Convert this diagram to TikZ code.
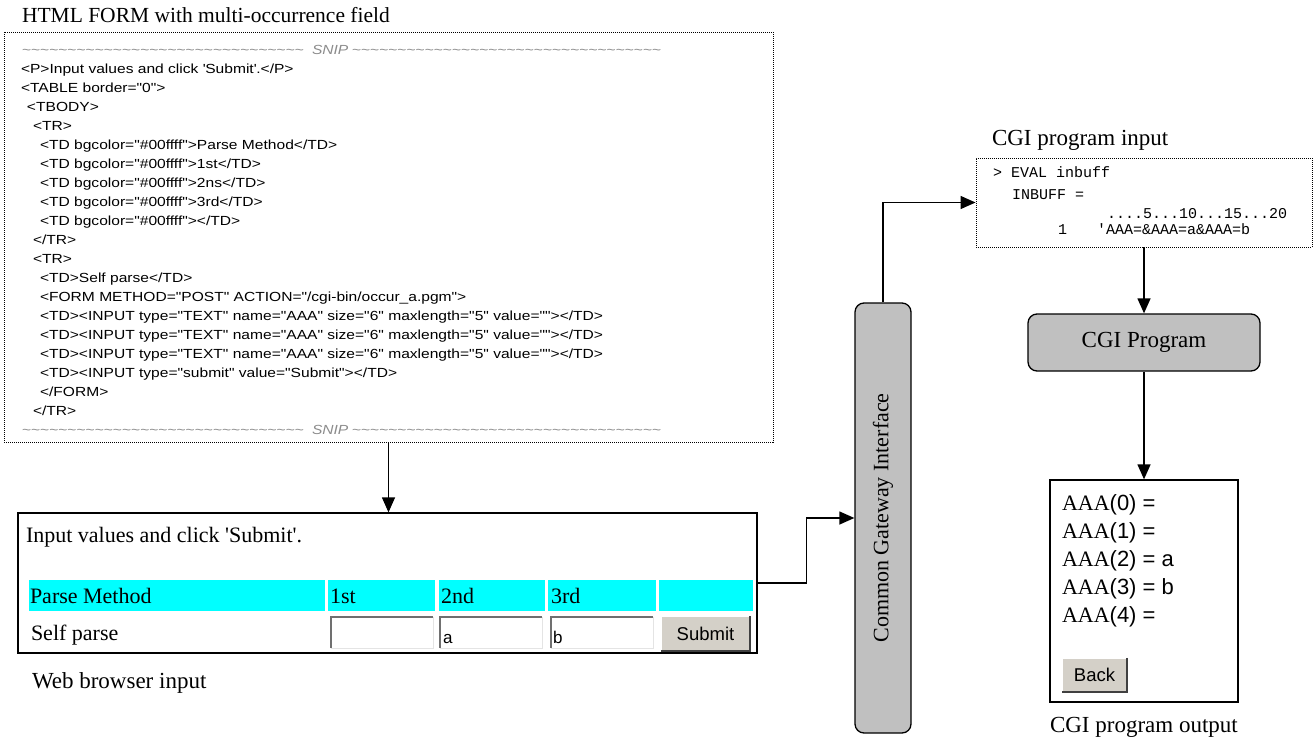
\documentclass[tikz,border=0pt]{standalone}
\usepackage{fontspec}
\setmainfont{Liberation Serif}
\newfontfamily\sansf{Liberation Sans}
\newfontfamily\monof{Liberation Mono}
\newfontfamily\codef[FakeStretch=1.18]{Liberation Sans}
\usetikzlibrary{arrows.meta,calc}
\newcommand\setfs[1]{\fontsize{#1}{#1}\selectfont}
\newcommand\tildes[1]{\foreach \i in {1,...,#1}{\textasciitilde}}
\definecolor{cyanc}{HTML}{00FFFF}
\definecolor{boxgray}{HTML}{C0C0C0}
\definecolor{btn}{HTML}{D4D0C8}
\definecolor{tgray}{HTML}{8C8C8C}
\definecolor{darkg}{HTML}{707070}
\definecolor{lightg}{HTML}{E4E4E4}
\definecolor{btndark}{HTML}{404040}
\begin{document}
\begin{tikzpicture}[x=1pt,y=-1pt,
  txt/.style={inner sep=0pt, outer sep=0pt, text depth=0pt, anchor=west},
  lbl/.style={txt, font=\setfs{23}, text height=15.2pt},
  brw/.style={txt, font=\setfs{22}, text height=14.6pt},
  code/.style={txt, font=\codef\setfs{13.2}, text height=9.5pt},
  snip/.style={txt, font=\codef\setfs{13.2}, text height=9.5pt, text=tgray},
  mono/.style={txt, font=\monof\setfs{15}, text height=8.7pt},
  aaa/.style={txt, font=\setfs{22}, text height=14.6pt},
  fldtxt/.style={inner sep=0pt, anchor=base west, font=\sansf\setfs{17}},
  cell/.style={inner sep=0pt, fill=cyanc, minimum height=31},
  field/.style={inner sep=0pt, fill=white, minimum width=102, minimum height=31},
  btnbox/.style={inner sep=0pt, fill=btn, font=\sansf\setfs{18.5}},
  plainbox/.style={draw, line width=1.3pt, inner sep=0pt},
  dotbox/.style={draw, line width=0.9pt, dash pattern=on 1pt off 1pt, inner sep=0pt},
  roundbox/.style={draw, line width=1.3pt, fill=boxgray, rounded corners=9pt, inner sep=0pt},
  conn/.style={line width=1.3pt},
  arr/.style={conn, -{Triangle[length=15pt,width=13pt]}}
]
\useasboundingbox (0,0) rectangle (1314,738);

% ---------- HTML source ----------
\node (title) [lbl, font=\setfs{21.5}, text height=14.5pt] at (22,15) {HTML FORM with multi-occurrence field};
\node (code) [dotbox, minimum width=769, minimum height=410] at (388.5,237) {};

\node (s1a) [snip] at (22,50) {\tildes{31}};
\node (s1b) [snip, font=\codef\itshape\setfs{13.2}] at (312,50) {SNIP};
\node (s1c) [snip] at (352,50) {\tildes{34}};

\node (c1)  [code] at (21,69)  {<P>Input values and click \textquotesingle Submit\textquotesingle.</P>};
\node (c2)  [code] at (21,88)  {<TABLE border="0">};
\node (c3)  [code] at (27,107) {<TBODY>};
\node (c4)  [code] at (33,126) {<TR>};
\node (c5)  [code] at (40,145) {<TD bgcolor="\#00ffff">Parse Method</TD>};
\node (c6)  [code] at (40,164) {<TD bgcolor="\#00ffff">1st</TD>};
\node (c7)  [code] at (40,183) {<TD bgcolor="\#00ffff">2ns</TD>};
\node (c8)  [code] at (40,202) {<TD bgcolor="\#00ffff">3rd</TD>};
\node (c9)  [code] at (40,221) {<TD bgcolor="\#00ffff"></TD>};
\node (c10) [code] at (33,240) {</TR>};
\node (c11) [code] at (33,259) {<TR>};
\node (c12) [code] at (40,278) {<TD>Self parse</TD>};
\node (c13) [code] at (40,297) {<FORM METHOD="POST" ACTION="/cgi-bin/occur\_a.pgm">};
\node (c14) [code] at (40,316) {<TD><INPUT type="TEXT" name="AAA" size="6" maxlength="5" value=""></TD>};
\node (c15) [code] at (40,335) {<TD><INPUT type="TEXT" name="AAA" size="6" maxlength="5" value=""></TD>};
\node (c16) [code] at (40,354) {<TD><INPUT type="TEXT" name="AAA" size="6" maxlength="5" value=""></TD>};
\node (c17) [code] at (40,373) {<TD><INPUT type="submit" value="Submit"></TD>};
\node (c18) [code] at (40,392) {</FORM>};
\node (c19) [code] at (33,411) {</TR>};

\node (s2a) [snip] at (22,430) {\tildes{31}};
\node (s2b) [snip, font=\codef\itshape\setfs{13.2}] at (312,430) {SNIP};
\node (s2c) [snip] at (352,430) {\tildes{34}};

% ---------- Web browser ----------
\node (browser) [plainbox, minimum width=739, minimum height=140] at (387.5,583) {};
\node (bt) [brw] at (26,535.5) {Input values and click \textquotesingle Submit\textquotesingle.};
\node (h1) [cell, minimum width=296] at (177,595.5) {};
\node (h2) [cell, minimum width=107] at (381.5,595.5) {};
\node (h3) [cell, minimum width=106] at (492,595.5) {};
\node (h4) [cell, minimum width=108] at (602,595.5) {};
\node (h5) [cell, minimum width=94] at (706,595.5) {};
\node (h1t) [brw] at (30,596) {Parse Method};
\node (h2t) [brw] at (330,596) {1st};
\node (h3t) [brw] at (441,596) {2nd};
\node (h4t) [brw] at (551,596) {3rd};
\node (sp) [brw] at (31,633.5) {Self parse};
\node (f1) [field] at (382,632.5) {};
\node (f2) [field] at (491,632.5) {};
\node (f3) [field] at (602,632.5) {};
\foreach \f in {f1,f2,f3}{
  \draw[line width=2pt, draw=darkg] (\f.south west) -- (\f.north west) -- (\f.north east);
  \draw[line width=1.2pt, draw=lightg] (\f.north east) -- (\f.south east) -- (\f.south west);
}
\node (fa) [fldtxt] at (443,643) {a};
\node (fb) [fldtxt] at (553,643) {b};
\node (sub) [btnbox, minimum width=89, minimum height=35] at (705.5,633.5) {Submit};
\draw[white, line width=1.5pt] (sub.south west) -- (sub.north west) -- (sub.north east);
\draw[btndark, line width=2pt] (sub.north east) -- (sub.south east) -- (sub.south west);
\node (wbi) [lbl] at (32,681) {Web browser input};

% ---------- CGI interface ----------
\node (cgi) [roundbox, minimum width=56, minimum height=430,
  label={[rotate=90, font=\setfs{22}, inner sep=0pt]center:Common Gateway Interface}] at (883,518) {};

% ---------- CGI program input ----------
\node (inlbl) [lbl] at (992,137.5) {CGI program input};
\node (inbox) [dotbox, minimum width=336, minimum height=89] at (1144,202.5) {};
\node (m1) [mono] at (993,173.5) {> EVAL inbuff};
\node (m2) [mono] at (1012,195.5) {INBUFF =};
\node (m3) [mono] at (1107,214) {....5...10...15...20};
\node (m4a) [mono] at (1058,230) {1};
\node (m4b) [mono] at (1097,230) {\textquotesingle AAA=\&AAA=a\&AAA=b};

% ---------- CGI program ----------
\node (prog) [roundbox, minimum width=232, minimum height=57, font=\setfs{23}] at (1144,342.5) {CGI Program};

% ---------- CGI program output ----------
\node (out) [plainbox, minimum width=188, minimum height=222] at (1144,591) {};
\node (o0) [aaa] at (1062,503.5) {AAA{\sansf(0) =}};
\node (o1) [aaa] at (1062,531) {AAA{\sansf(1) =}};
\node (o2) [aaa] at (1062,559.5) {AAA{\sansf(2) = a}};
\node (o3) [aaa] at (1062,587.5) {AAA{\sansf(3) = b}};
\node (o4) [aaa] at (1062,615) {AAA{\sansf(4) =}};
\node (back) [btnbox, minimum width=65, minimum height=34] at (1094.5,675) {Back};
\draw[white, line width=1.5pt] (back.south west) -- (back.north west) -- (back.north east);
\draw[btndark, line width=2pt] (back.north east) -- (back.south east) -- (back.south west);
\node (outlbl) [lbl] at (1050,725) {CGI program output};

% ---------- connectors ----------
\draw[arr] (code.south) -- (code.south |- browser.north);
\draw[arr] (browser.east) -- ++(49,0) |- (cgi.west);
\draw[arr] (cgi.north) |- (inbox.west);
\draw[arr] (inbox.south) -- (prog.north);
\draw[arr] (prog.south) -- (out.north);
\end{tikzpicture}
\end{document}
